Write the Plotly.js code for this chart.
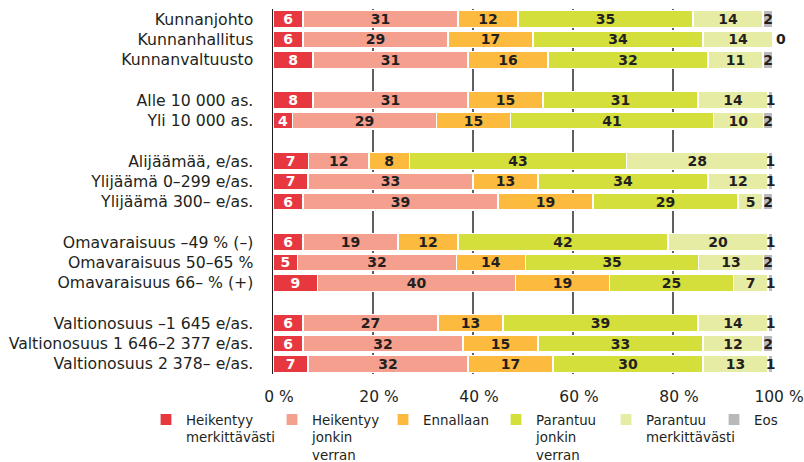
<!DOCTYPE html>
<html><head><meta charset="utf-8">
<script src="https://cdn.plot.ly/plotly-3.0.1.min.js"></script>
<style>html,body{margin:0;padding:0;background:#fff}#chart{width:804px;height:462px}</style>
</head><body><div id="chart"></div>
<script>
// ---- data ----
const categories = ["Kunnanjohto","Kunnanhallitus","Kunnanvaltuusto","Alle 10 000 as.","Yli 10 000 as.","Alijäämää, e/as.","Ylijäämä 0–299 e/as.","Ylijäämä 300– e/as.","Omavaraisuus –49 % (–)","Omavaraisuus 50–65 %","Omavaraisuus 66– % (+)","Valtionosuus –1 645 e/as.","Valtionosuus 1 646–2 377 e/as.","Valtionosuus 2 378– e/as."];
const groupSizes = [3, 2, 3, 3, 3];
const heikentyyMerkittavasti = [6, 6, 8, 8, 4, 7, 7, 6, 6, 5, 9, 6, 6, 7];
const heikentyyJonkin = [31, 29, 31, 31, 29, 12, 33, 39, 19, 32, 40, 27, 32, 32];
const ennallaan = [12, 17, 16, 15, 15, 8, 13, 19, 12, 14, 19, 13, 15, 17];
const parantuuJonkin = [35, 34, 32, 31, 41, 43, 34, 29, 42, 35, 25, 39, 33, 30];
const parantuuMerkittavasti = [14, 14, 11, 14, 10, 28, 12, 5, 20, 13, 7, 14, 12, 13];
const eos = [2, 0, 2, 1, 2, 1, 1, 2, 1, 2, 1, 1, 2, 1];
const seriesNames = ["Heikentyy<br>merkittävästi", "Heikentyy<br>jonkin<br>verran", "Ennallaan", "Parantuu<br>jonkin<br>verran", "Parantuu<br>merkittävästi", "Eos"];
const xTickVals = [0, 20, 40, 60, 80, 100];
const xTickText = ["0 %", "20 %", "40 %", "60 %", "80 %", "100 %"];

// ---- styling ----
const colors = ["#e8383f", "#f5a08e", "#fcba3f", "#d5df3b", "#e7eca5", "#b9b9bc"];
const textColors = ["#ffffff", "#231f20", "#231f20", "#231f20", "#231f20", "#231f20"];
const legendX = [-0.254, -0.002, 0.22, 0.446, 0.666, 0.882];
const legendY = -0.083;

// category order with blank spacer rows between groups
const catOrder = [];
let k = 0;
groupSizes.forEach((n, g) => {
  for (let j = 0; j < n; j++) catOrder.push(categories[k++]);
  if (g < groupSizes.length - 1) catOrder.push(" ".repeat(g + 1));
});

const series = [heikentyyMerkittavasti, heikentyyJonkin, ennallaan, parantuuJonkin, parantuuMerkittavasti, eos];
const traces = series.map((vals, i) => ({
  type: "bar", orientation: "h", name: seriesNames[i],
  y: categories, x: vals,
  text: vals.map(String),
  textposition: i === 5 ? vals.map(v => v === 0 ? "outside" : "inside") : "inside",
  insidetextanchor: "middle", constraintext: "none", textangle: 0,
  textfont: {family: "DejaVu Sans", size: 14, color: textColors[i], weight: 700},
  marker: {color: colors[i], line: {color: "#ffffff", width: 1.2}},
  cliponaxis: false,
  legend: i === 0 ? "legend" : "legend" + (i + 1),
  hoverinfo: "skip"
}));

const layout = {
  width: 804, height: 462,
  margin: {l: 273, r: 31, t: 9, b: 88, pad: 0, autoexpand: false},
  paper_bgcolor: "#ffffff", plot_bgcolor: "#ffffff",
  barmode: "stack", barnorm: "percent", bargap: 0.17,
  font: {family: "DejaVu Sans", color: "#231f20"},
  showlegend: true,
  xaxis: {range: [0, 100], tickmode: "array", tickvals: xTickVals, ticktext: xTickText,
    showgrid: true, gridcolor: "#5f5f5f", gridwidth: 1.3, zeroline: false, showline: false,
    ticks: "", tickfont: {size: 15.5, color: "#231f20"}, ticklabelstandoff: 11, ticklabelshift: 6, fixedrange: true, automargin: false},
  yaxis: {type: "category", categoryorder: "array", categoryarray: catOrder, range: [catOrder.length - 0.5, -0.5],
    showline: true, linecolor: "#231f20", linewidth: 1.5, showgrid: false, zeroline: false,
    ticks: "", tickfont: {size: 15.7, color: "#231f20"}, ticklabelstandoff: 15, fixedrange: true, automargin: false}
};
legendX.forEach((x, i) => {
  layout[i === 0 ? "legend" : "legend" + (i + 1)] = {
    x: x, y: legendY, xanchor: "left", yanchor: "top", orientation: "v", valign: "top",
    bgcolor: "rgba(0,0,0,0)", borderwidth: 0, itemwidth: 30, tracegroupgap: 0,
    font: {family: "DejaVu Sans", size: 13.4, color: "#231f20"}
  };
});

Plotly.newPlot("chart", traces, layout, {displayModeBar: false, staticPlot: true});
</script></body></html>
